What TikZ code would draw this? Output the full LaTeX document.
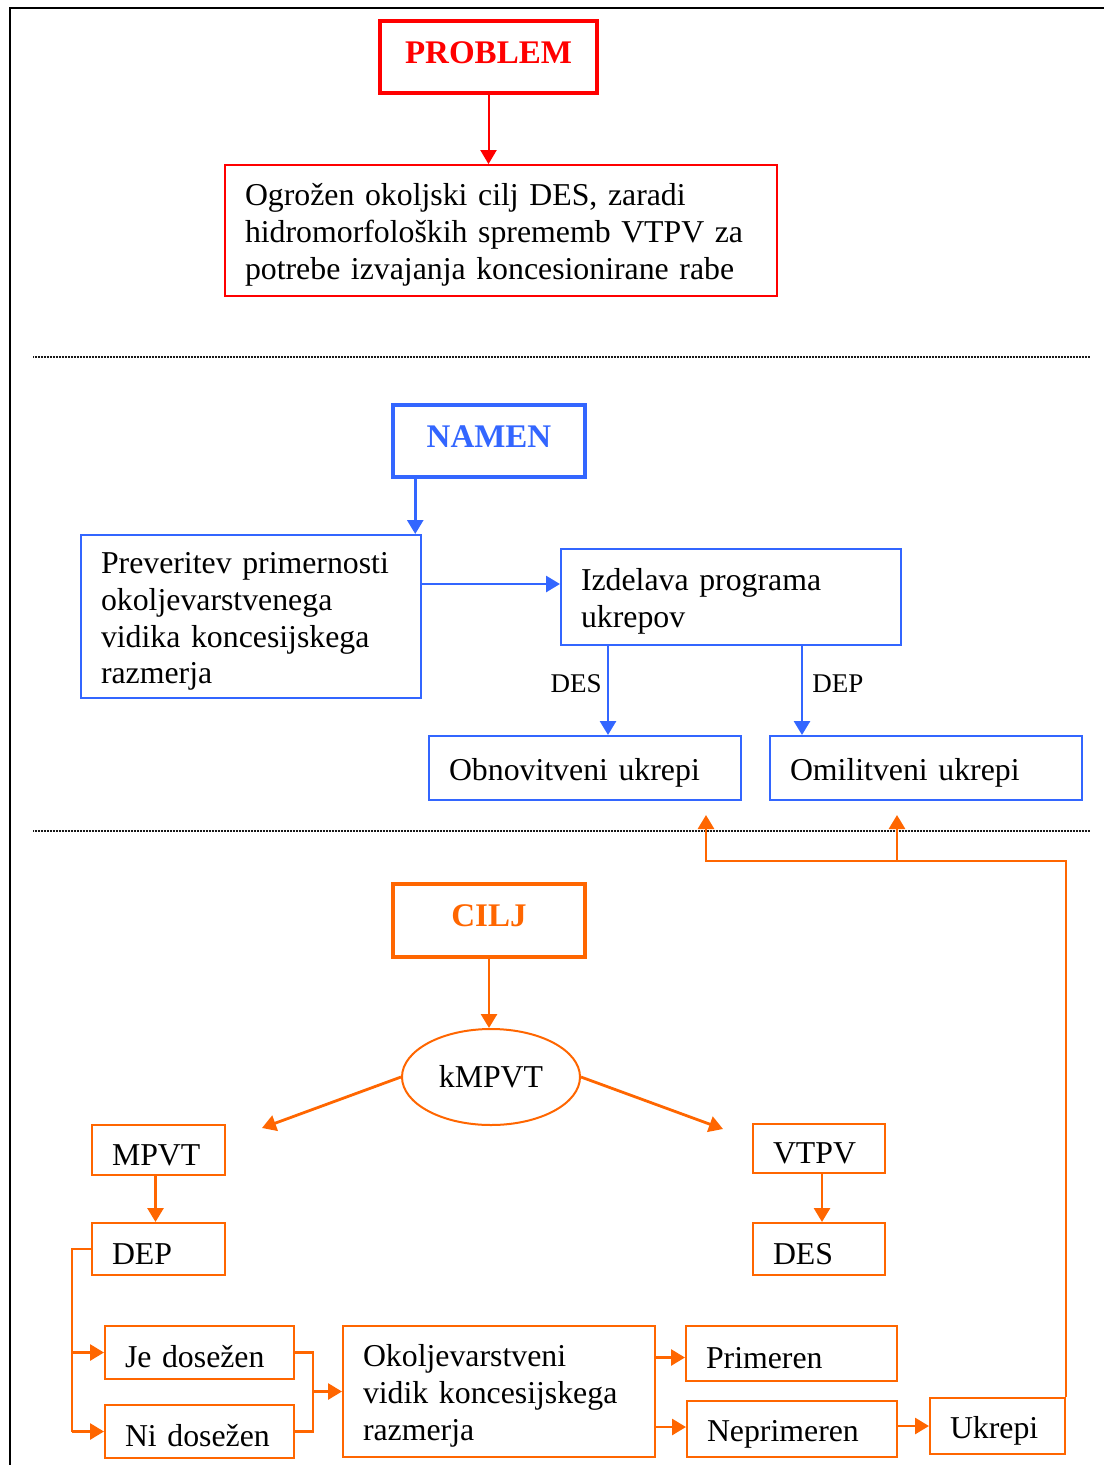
\documentclass[tikz,border=0pt]{standalone}
\usepackage{fontspec}
\setmainfont[WordSpace=0.83]{Liberation Serif}
\usetikzlibrary{arrows.meta,shapes.geometric}

\definecolor{probred}{RGB}{255,0,0}
\definecolor{namblue}{RGB}{51,102,255}
\definecolor{ciljor}{RGB}{255,102,0}

\tikzset{
  txt/.style={font=\fontsize{31.8}{36.8}\selectfont},
  lbl/.style={font=\fontsize{27}{30}\selectfont, inner sep=0pt},
  box/.style={draw, rectangle, line width=2pt, inner xsep=20pt, inner ysep=0pt, align=left, txt,
              execute at begin node={\rule{0pt}{31pt}}},
  title/.style={draw, rectangle, line width=3.5pt, inner sep=0pt, text depth=9pt,
                font=\fontsize{33}{38}\selectfont\bfseries},
  arr/.style={line width=2.8pt, -{Triangle[length=14pt,width=16pt]}},
  wire/.style={line width=2.6pt},
  sep/.style={line width=1.5pt, black!90, dash pattern=on 1.2pt off 0.3pt},
}

\begin{document}
\begin{tikzpicture}[x=1pt,y=-1pt]
\useasboundingbox (0,0) rectangle (1104,1465);

% page frame (top and left edges) and section separators
\draw[line width=2pt] (10,1465) -- (10,8) -- (1104,8);
\draw[sep] (33,357) -- (1090,357);
\draw[sep] (33,831) -- (1090,831);

% ---------- PROBLEM ----------
\node[title, draw=probred, text=probred, minimum width=217pt, minimum height=72pt] (prob) at (488.5,57) {PROBLEM};
\node[box, draw=probred, line width=1.8pt, text width=512pt, minimum height=131pt] (ogr) at (501,230.5)
  {Ogrožen okoljski cilj DES, zaradi\\hidromorfoloških sprememb VTPV za\\potrebe izvajanja koncesionirane rabe};
\draw[arr, draw=probred, line width=2pt] (prob.south) -- (prob.south |- ogr.north);

% ---------- NAMEN ----------
\node[title, draw=namblue, text=namblue, minimum width=192pt, minimum height=72pt] (namen) at (489,441) {NAMEN};
\node[box, draw=namblue, text width=300pt, minimum height=163pt] (prev) at (251,616.5)
  {Preveritev primernosti\\okoljevarstvenega\\vidika koncesijskega\\razmerja};
\node[box, draw=namblue, text width=300pt, minimum height=96pt] (izd) at (731,597)
  {Izdelava programa\\ukrepov};
\node[box, draw=namblue, text width=272pt, minimum height=64pt] (obn) at (585,768) {Obnovitveni ukrepi};
\node[box, draw=namblue, text width=272pt, minimum height=64pt] (omi) at (926,768) {Omilitveni ukrepi};

\coordinate (n1) at ([xshift=24pt]namen.south west);
\draw[arr, draw=namblue] (n1) -- (n1 |- prev.north);
\coordinate (i1) at ([yshift=13pt]izd.west);
\draw[arr, draw=namblue] (prev.east |- i1) -- (i1);
\coordinate (d1) at ([xshift=48pt]izd.south west);
\coordinate (d2) at ([xshift=-100pt]izd.south east);
\draw[arr, draw=namblue] (d1) -- node[lbl, pos=0.42, left=5pt] {DES} (d1 |- obn.north);
\draw[arr, draw=namblue] (d2) -- node[lbl, pos=0.42, right=9pt] {DEP} (d2 |- omi.north);

% ---------- CILJ ----------
\node[title, draw=ciljor, text=ciljor, minimum width=192pt, minimum height=73pt] (cilj) at (489,920.5) {CILJ};
\node[draw=ciljor, ellipse, line width=2pt, minimum width=178pt, minimum height=96pt, inner sep=0pt, txt] (kmp) at (491,1077) {kMPVT\hspace{8pt}};
\draw[arr, draw=ciljor] (cilj.south) -- (cilj.south |- kmp.north);

\coordinate (kl) at (262,1128);
\coordinate (kr) at (723,1129);
\draw[arr, draw=ciljor] (kmp.west) -- (kl);
\draw[arr, draw=ciljor] (kmp.east) -- (kr);

\node[box, draw=ciljor, text width=93pt, minimum height=50pt] (mpvt) at (158.5,1150) {MPVT};
\node[box, draw=ciljor, text width=93pt, minimum height=52pt] (dep) at (158.5,1249) {DEP};
\node[box, draw=ciljor, text width=92pt, minimum height=49pt] (vtpv) at (819,1148.5) {VTPV};
\node[box, draw=ciljor, text width=92pt, minimum height=52pt] (des) at (819,1249) {DES};
\draw[arr, draw=ciljor] ([xshift=-3pt]mpvt.south) -- ([xshift=-3pt]dep.north);
\draw[arr, draw=ciljor] ([xshift=3pt]vtpv.south) -- ([xshift=3pt]des.north);

\node[box, draw=ciljor, text width=149pt, minimum height=53pt] (je) at (199.5,1352.5) {Je dosežen};
\node[box, draw=ciljor, text width=149pt, minimum height=53pt] (ni) at (199.5,1431.5) {Ni dosežen};
\node[box, draw=ciljor, text width=272pt, minimum height=131pt] (okv) at (499,1391.5)
  {Okoljevarstveni\\vidik koncesijskega\\razmerja};
\node[box, draw=ciljor, text width=171pt, minimum height=55pt] (prim) at (791.5,1353.5) {Primeren};
\node[box, draw=ciljor, text width=170pt, minimum height=56pt] (nep) at (792,1429) {Neprimeren};
\node[box, draw=ciljor, text width=95pt, minimum height=56pt] (ukr) at (997.5,1426) {Ukrepi};

% DEP branches to the two outcomes
\coordinate (dl) at ([xshift=-19pt]dep.west);
\draw[wire, draw=ciljor] (dep.west) -- (dl) -- (dl |- ni.west);
\draw[arr, draw=ciljor] (dl |- je.west) -- (je.west);
\draw[arr, draw=ciljor] (dl |- ni.west) -- (ni.west);

% outcomes merge into the assessment
\coordinate (jn) at ([xshift=18pt]je.east);
\draw[wire, draw=ciljor] (je.east) -- (jn) -- (jn |- ni.east) -- (ni.east);
\draw[arr, draw=ciljor] (jn |- okv.west) -- (okv.west);

\draw[arr, draw=ciljor] ([yshift=-4pt]okv.east |- prim.west) -- ([yshift=-4pt]prim.west);
\draw[arr, draw=ciljor] ([yshift=2pt]okv.east |- nep.west) -- ([yshift=2pt]nep.west);
\draw[arr, draw=ciljor] (nep.east |- ukr.west) -- (ukr.west);

% feedback from measures back to the programme
\coordinate (bus) at (1065,861);
\coordinate (f1) at ([xshift=-36pt,yshift=-14pt]obn.south east);
\coordinate (f2) at ([xshift=-29pt,yshift=-14pt]omi.south);
\draw[arr, draw=ciljor] (ukr.north east) -- (ukr.north east |- bus) -| (f1);
\draw[arr, draw=ciljor] (f2 |- bus) -- (f2);
\end{tikzpicture}
\end{document}
